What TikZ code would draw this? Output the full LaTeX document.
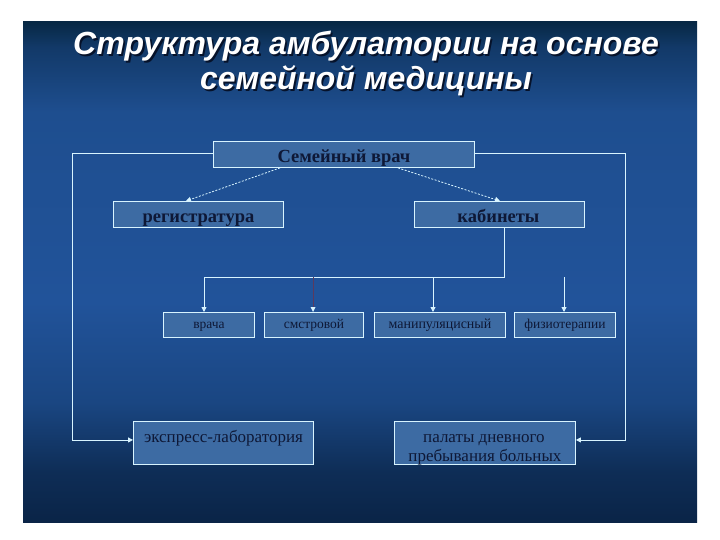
\documentclass[tikz,border=0pt]{standalone}
\usepackage{fontspec}
\setmainfont{Liberation Serif}
\newfontfamily\titlefont{Liberation Sans}
\usetikzlibrary{arrows.meta,calc}
\definecolor{bgA}{HTML}{0A2447}
\definecolor{bgB}{HTML}{0E2D56}
\definecolor{bgC}{HTML}{1A4682}
\definecolor{bgD}{HTML}{21539A}
\definecolor{bgE}{HTML}{1E4E8F}
\definecolor{bgF}{HTML}{123968}
\definecolor{bgG}{HTML}{072844}
\definecolor{boxfill}{HTML}{3D6BA3}
\definecolor{boxline}{HTML}{D8F4FF}
\definecolor{boxtext}{HTML}{0E1836}
\definecolor{faint}{HTML}{5A3A5E}
\definecolor{shadowc}{HTML}{06122A}
\newcommand\shadowedtext[1]{\makebox[0pt][l]{\hspace{1.8pt}\raisebox{-2.4pt}{\textcolor{shadowc}{#1}}}#1}
% y axis is flipped; the path is mapped onto 25bp..75bp, 25bp = top of panel
\pgfdeclareverticalshading{panelbg}{100bp}{color(0bp)=(bgA); color(25bp)=(bgA); color(30bp)=(bgB); color(37bp)=(bgC); color(47bp)=(bgD); color(66bp)=(bgE); color(72.5bp)=(bgF); color(75bp)=(bgG); color(100bp)=(bgG)}
\tikzset{
  box/.style={draw=boxline, line width=0.9pt, fill=boxfill, inner sep=0pt, anchor=north west},
  conn/.style={draw=boxline, line width=0.9pt},
  arr/.style={conn, -{Triangle[length=5pt,width=5pt]}},
  darr/.style={draw=boxline, line width=0.8pt, dash pattern=on 2pt off 1.5pt, -{Triangle[length=5pt,width=5pt]}},
  lbl/.style={text=boxtext, inner sep=0pt, anchor=base},
  bigtxt/.style={lbl, font=\fontsize{18.5}{20}\selectfont\bfseries},
  smalltxt/.style={lbl, font=\fontsize{13.5}{15}\selectfont},
  midtxt/.style={lbl, font=\fontsize{17}{19}\selectfont},
}
\begin{document}
\begin{tikzpicture}[x=1pt,y=-1pt]
\useasboundingbox (0,0) rectangle (720,540);
\fill[white] (0,0) rectangle (720,540);
\shade[shading=panelbg] (23,22) rectangle (697,522);
% title
\begin{scope}[font=\titlefont\bfseries\itshape\fontsize{32}{36}\selectfont]
\node[text=white] (t1) at (366,47) {\shadowedtext{Структура амбулатории на основе}};
\node[text=white] (t2) at (366,82) {\shadowedtext{семейной медицины}};
\end{scope}
% boxes
\node[box, minimum width=261, minimum height=26] (doc) at (213,141) {};
\node[box, minimum width=170, minimum height=26] (reg) at (113,201) {};
\node[box, minimum width=170, minimum height=26] (kab) at (414,201) {};
\node[box, minimum width=91, minimum height=25] (vr) at (163,312) {};
\node[box, minimum width=99, minimum height=25] (sm) at (264,312) {};
\node[box, minimum width=131, minimum height=25] (man) at (374,312) {};
\node[box, minimum width=101, minimum height=25] (fiz) at (514,312) {};
\node[box, minimum width=180, minimum height=43] (exp) at (133,421) {};
\node[box, minimum width=181, minimum height=43] (pal) at (394,421) {};
% texts
\node[bigtxt] (docT) at ($(doc.north)+(0,22)$) {Семейный врач};
\node[bigtxt] (regT) at ($(reg.north)+(0,21.5)$) {регистратура};
\node[bigtxt] (kabT) at ($(kab.north)+(-1,21.5)$) {кабинеты};
\node[smalltxt] (vrT) at ($(vr.north)+(0,16)$) {врача};
\node[smalltxt] (smT) at ($(sm.north)+(0,16)$) {смстровой};
\node[smalltxt, font=\fontsize{14}{15}\selectfont] (manT) at ($(man.north)+(0,16)$) {манипуляцисный};
\node[smalltxt] (fizT) at ($(fiz.north)+(0,16)$) {физиотерапии};
\node[midtxt] (expT) at ($(exp.north)+(0,21)$) {экспресс-лаборатория};
\node[midtxt] (palT1) at ($(pal.north)+(-1,21)$) {палаты дневного};
\node[midtxt] (palT2) at ($(pal.north)+(0,40)$) {пребывания больных};
% dashed arrows
\draw[darr] ($(doc.south west)+(67,0)$) -- ($(reg.north west)+(73,0)$);
\draw[darr] ($(doc.south west)+(185,0)$) -- ($(kab.north west)+(86,0)$);
% frame
\coordinate (fl) at (72,153);
\coordinate (fr) at (625,153);
\draw[conn] (doc.west |- fl) -- (fl);
\draw[arr] (fl) |- ($(exp.west)+(0,-3)$);
\draw[conn] (doc.east |- fr) -- (fr);
\draw[arr] (fr) |- ($(pal.east)+(0,-3)$);
% bus
\coordinate (j) at (504,277);
\coordinate (b1) at (204,277);
\coordinate (b2) at (313,277);
\coordinate (b3) at (433,277);
\coordinate (b4) at (564,277);
\draw[conn] (kab.south -| j) -- (j) -- (b1);
\draw[arr] (b1) -- (b1 |- vr.north);
\draw[draw=faint, line width=0.8pt] (b2) -- ($(b2 |- sm.north)+(0,-5)$);
\fill[boxline] ($(b2 |- sm.north)+(-2.5,-5)$) -- ($(b2 |- sm.north)+(2.5,-5)$) -- (b2 |- sm.north) -- cycle;
\draw[arr] (b3) -- (b3 |- man.north);
\draw[arr] (b4) -- (b4 |- fiz.north);
\end{tikzpicture}
\end{document}
